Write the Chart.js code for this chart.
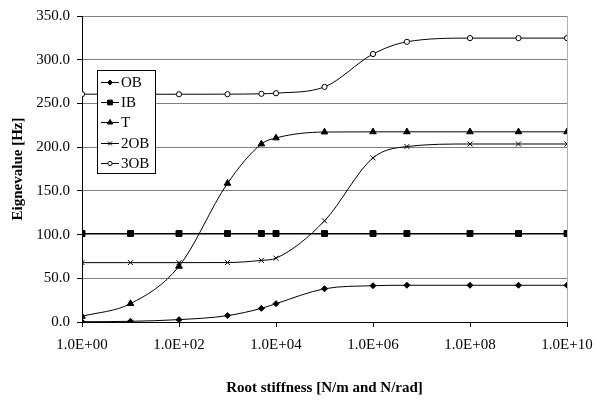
<!DOCTYPE html>
<html>
<head>
<meta charset="utf-8">
<script src="https://cdn.jsdelivr.net/npm/chart.js@4/dist/chart.umd.min.js"></script>
<style>
  html, body { margin: 0; padding: 0; background: #fff; }
  #wrap { width: 594px; height: 400px; position: relative; }
</style>
</head>
<body>
<div id="wrap"><canvas id="chart"></canvas></div>
<script>
// Rigidez de la raíz (eje x, logarítmico)
const stiffness = [1, 10, 100, 1000, 5000, 1e4, 1e5, 1e6, 5e6, 1e8, 1e9, 1e10];

// Valores propios por modo [Hz]
const seriesOB  = [0.3, 0.8, 2.7, 7.3, 15.6, 21.0, 38.0, 41.5, 42.0, 42.0, 42.0, 42.0];
const seriesIB  = [101.2, 101.2, 101.2, 101.2, 101.2, 101.2, 101.2, 101.2, 101.2, 101.2, 101.2, 101.2];
const seriesT   = [6.5, 21.0, 63.7, 158.6, 203.6, 210.5, 217.3, 217.5, 217.5, 217.5, 217.5, 217.5];
const series2OB = [67.9, 67.9, 67.9, 68.0, 70.5, 73.0, 115.7, 187.7, 200.7, 203.6, 203.6, 203.6];
const series3OB = [260.6, 260.5, 260.5, 260.6, 261.0, 261.7, 268.9, 306.5, 320.5, 324.7, 324.7, 324.7];

const seriesNames = ['OB', 'IB', 'T', '2OB', '3OB'];
const xTickValues = [1, 1e2, 1e4, 1e6, 1e8, 1e10];
const yTickValues = [0, 50, 100, 150, 200, 250, 300, 350];

const FONT = "'Liberation Serif', 'Times New Roman', serif";

const markers = [
    { pointStyle: 'rectRot', radius: 3, fill: '#000' },
    { pointStyle: 'rect', radius: 4.2, fill: '#000' },
    { pointStyle: 'triangle', radius: 3.8, fill: '#000' },
    { pointStyle: 'crossRot', radius: 3.5, fill: '#000' },
    { pointStyle: 'circle', radius: 2.6, fill: '#fff' }
];

function toPoints(values) {
    return values.map((v, i) => ({ x: stiffness[i], y: v }));
}

const allSeries = [seriesOB, seriesIB, seriesT, series2OB, series3OB];

const datasets = allSeries.map((values, i) => ({
    label: seriesNames[i],
    data: toPoints(values),
    borderColor: '#000',
    borderWidth: 1,
    backgroundColor: markers[i].fill,
    pointStyle: markers[i].pointStyle,
    pointRadius: markers[i].radius,
    pointBorderColor: '#000',
    pointBorderWidth: 1,
    pointBackgroundColor: markers[i].fill,
    cubicInterpolationMode: 'monotone',
    fill: false
}));

function formatSci(v) {
    const exp = Math.round(Math.log10(v));
    const mant = v / Math.pow(10, exp);
    return mant.toFixed(1) + 'E+' + String(exp).padStart(2, '0');
}

// Borde derecho del área del gráfico y leyenda dibujada encima de las líneas
const framePlugin = {
    id: 'frame',
    beforeDatasetsDraw(chart) {
        const { ctx, chartArea } = chart;
        ctx.save();
        ctx.strokeStyle = '#b0b0b0';
        ctx.lineWidth = 1;
        ctx.beginPath();
        ctx.moveTo(Math.round(chartArea.right) + 0.5, chartArea.top);
        ctx.lineTo(Math.round(chartArea.right) + 0.5, chartArea.bottom);
        ctx.stroke();
        ctx.restore();
    },
    afterDatasetsDraw(chart) {
        const ctx = chart.ctx;
        const box = { x: 97.5, y: 70.5, w: 58, h: 103 };
        ctx.save();
        ctx.fillStyle = '#fff';
        ctx.fillRect(box.x, box.y, box.w, box.h);
        ctx.strokeStyle = '#000';
        ctx.lineWidth = 1;
        ctx.strokeRect(box.x, box.y, box.w, box.h);
        ctx.font = '15px ' + FONT;
        ctx.textBaseline = 'middle';
        ctx.textAlign = 'left';
        seriesNames.forEach((name, i) => {
            const y = Math.round(81.5 + i * 20.4) + 0.5;
            ctx.strokeStyle = '#000';
            ctx.beginPath();
            ctx.moveTo(101, y);
            ctx.lineTo(119, y);
            ctx.stroke();
            ctx.fillStyle = markers[i].fill;
            Chart.helpers.drawPoint(ctx, {
                pointStyle: markers[i].pointStyle,
                radius: markers[i].radius * 0.8,
                rotation: 0,
                borderWidth: 1
            }, 110, y);
            ctx.fillStyle = '#000';
            ctx.fillText(name, 121, y + 1);
        });
        ctx.restore();
    }
};

new Chart(document.getElementById('chart'), {
    type: 'line',
    data: { datasets: datasets },
    options: {
        responsive: true,
        maintainAspectRatio: false,
        animation: false,
        layout: { padding: { top: 14, right: 27, left: 0, bottom: 0 } },
        plugins: {
            legend: { display: false },
            tooltip: { enabled: false }
        },
        scales: {
            x: {
                type: 'logarithmic',
                min: 1,
                max: 1e10,
                afterFit: s => {
                    s.height = 78;
                    s.paddingLeft = 0;
                    s.paddingRight = 0;
                },
                afterBuildTicks: s => { s.ticks = xTickValues.map(v => ({ value: v })); },
                grid: {
                    drawOnChartArea: false,
                    drawTicks: true,
                    tickLength: 5,
                    tickColor: '#000'
                },
                border: { color: '#000', width: 1 },
                ticks: {
                    color: '#000',
                    font: { family: FONT, size: 15 },
                    padding: 9,
                    maxRotation: 0,
                    autoSkip: false,
                    callback: v => formatSci(v)
                },
                title: {
                    display: true,
                    text: 'Root stiffness [N/m and N/rad]',
                    color: '#000',
                    font: { family: FONT, size: 15, weight: 'bold' },
                    padding: { top: 0, bottom: 3 }
                }
            },
            y: {
                min: 0,
                max: 350,
                afterFit: s => { s.width = 82; },
                afterBuildTicks: s => { s.ticks = yTickValues.map(v => ({ value: v })); },
                grid: {
                    color: '#808080',
                    lineWidth: 1,
                    drawTicks: true,
                    tickLength: 5,
                    tickColor: '#000'
                },
                border: { color: '#000', width: 1 },
                ticks: {
                    color: '#000',
                    font: { family: FONT, size: 15 },
                    padding: 7,
                    callback: v => Number(v).toFixed(1)
                },
                title: {
                    display: true,
                    text: 'Eignevalue [Hz]',
                    color: '#000',
                    font: { family: FONT, size: 15, weight: 'bold' },
                    padding: { top: 9, bottom: 0 }
                }
            }
        }
    },
    plugins: [framePlugin]
});
</script>
</body>
</html>
